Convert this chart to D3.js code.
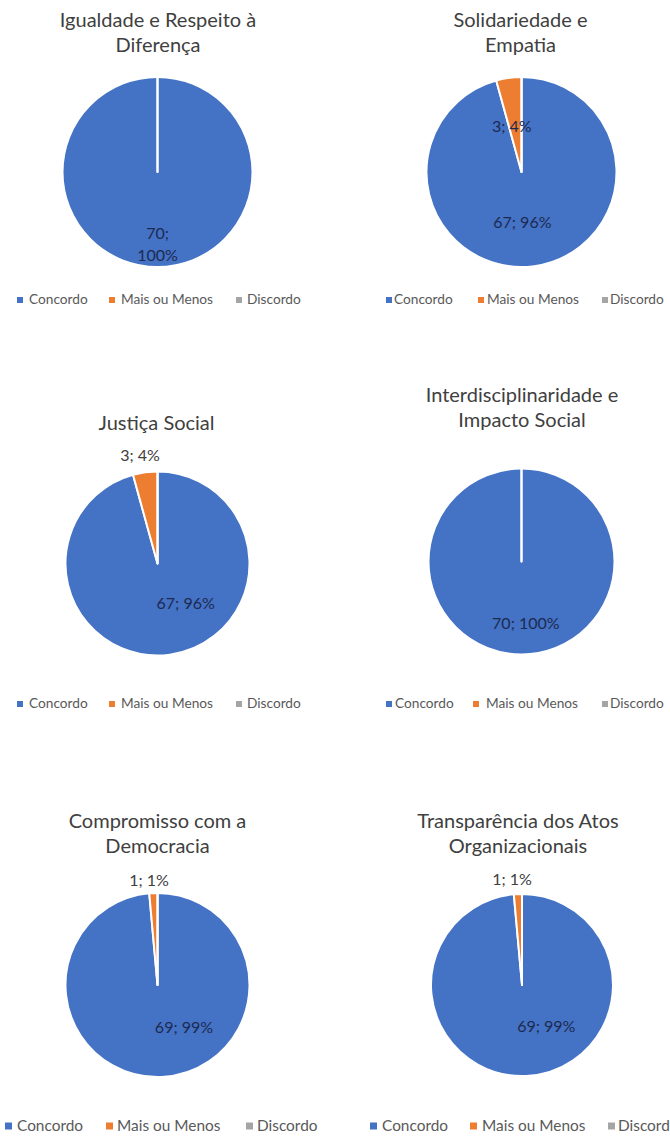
<!DOCTYPE html>
<html>
<head>
<meta charset="utf-8">
<script src="https://cdn.jsdelivr.net/npm/d3@7"></script>
<style>
  html, body { margin: 0; padding: 0; background: #ffffff; }
  svg { display: block; }
</style>
</head>
<body>
<script>
// ---------- DATA ----------
const categories = ["Concordo", "Mais ou Menos", "Discordo"];
const titles = [
  ["Igualdade e Respeito à", "Diferença"],
  ["Solidariedade e", "Empatia"],
  ["Justiça Social"],
  ["Interdisciplinaridade e", "Impacto Social"],
  ["Compromisso com a", "Democracia"],
  ["Transparência dos Atos", "Organizacionais"]
];
const concordo    = [70, 67, 67, 70, 69, 69];
const maisOuMenos = [0, 3, 3, 0, 1, 1];
const discordo    = [0, 0, 0, 0, 0, 0];

// ---------- LAYOUT / STYLE ----------
const W = 670, H = 1138;
const colors = ["#4472C4", "#ED7D31", "#A5A5A5"];
const FONT = "Lato, 'Open Sans', sans-serif";

const layout = [
  { cx: 157.5, cy: 172, r: 95, tx: 158, ty: [27, 52], ly: 299, lfs: 13.7, lsq: 6,
    sqx: [17, 109, 236], txx: [29, 121, 247],
    labels: [{ a: 180, f: 0.76, wrap: true }, null] },
  { cx: 521.5, cy: 172, r: 95, tx: 520.5, ty: [27, 52], ly: 299, lfs: 13.7, lsq: 6,
    sqx: [386, 478, 602], txx: [394, 487, 610],
    labels: [{ a: 179, f: 0.53 }, { a: 348, f: 0.49, inside: true }] },
  { cx: 157.5, cy: 563.5, r: 92, tx: 156.5, ty: [430], ly: 703, lfs: 13.7, lsq: 6,
    sqx: [17, 109, 236], txx: [29, 121, 247],
    labels: [{ a: 144.7, f: 0.53 }, { a: 350.8, f: 1.19 }] },
  { cx: 521.5, cy: 561.5, r: 93, tx: 522, ty: [401.5, 426.5], ly: 703, lfs: 13.7, lsq: 6,
    sqx: [386, 473, 602], txx: [395, 486, 610],
    labels: [{ a: 176, f: 0.67 }, null] },
  { cx: 157.5, cy: 985, r: 92, tx: 157.5, ty: [828, 853], ly: 1125, lfs: 15.4, lsq: 7,
    sqx: [5, 106, 246], txx: [17, 117, 257],
    labels: [{ a: 147.8, f: 0.54 }, { a: 355.4, f: 1.145 }] },
  { cx: 522, cy: 985, r: 91, tx: 518, ty: [828, 853], ly: 1125, lfs: 15.4, lsq: 7,
    sqx: [370, 470, 608], txx: [382, 482, 618],
    labels: [{ a: 149.7, f: 0.53 }, { a: 354.6, f: 1.16 }] }
];

// ---------- DRAW ----------
const svg = d3.select("body").append("svg")
  .attr("width", W).attr("height", H)
  .attr("viewBox", `0 0 ${W} ${H}`);
svg.append("rect").attr("width", W).attr("height", H).attr("fill", "#ffffff");

const pie = d3.pie().sort(null).value(d => d.value)
  .startAngle(0).endAngle(2 * Math.PI);
const color = d3.scaleOrdinal().domain(categories).range(colors);

layout.forEach((L, i) => {
  const values = [concordo[i], maisOuMenos[i], discordo[i]];
  const total = d3.sum(values);
  const data = categories.map((c, k) => ({ cat: c, value: values[k] }));
  const arcs = pie(data);
  const arc = d3.arc().innerRadius(0).outerRadius(L.r);

  const g = svg.append("g").attr("class", "chart");

  // title
  const title = g.append("text")
    .attr("text-anchor", "middle")
    .attr("font-family", FONT)
    .attr("font-size", 20)
    .attr("fill", "#404040");
  titles[i].forEach((line, k) => {
    title.append("tspan").attr("x", L.tx).attr("y", L.ty[k]).text(line);
  });

  // slices (zero-value slices draw the white radial separator)
  const pg = g.append("g").attr("transform", `translate(${L.cx},${L.cy})`);
  pg.selectAll("path.slice")
    .data(arcs)
    .join("path")
    .attr("class", "slice")
    .attr("d", arc)
    .attr("fill", d => color(d.data.cat))
    .attr("stroke", "#ffffff")
    .attr("stroke-width", 2)
    .attr("stroke-linejoin", "round");

  // data labels
  arcs.forEach((d, k) => {
    const spec = L.labels[k];
    if (!spec || d.data.value === 0) return;
    const ang = spec.a * Math.PI / 180;
    const rr = L.r * spec.f;
    const pos = d3.arc().innerRadius(rr).outerRadius(rr)
      .startAngle(ang).endAngle(ang).centroid();
    const pct = Math.round(d.data.value / total * 100) + "%";
    const outside = spec.f > 1;
    const t = pg.append("text")
      .attr("text-anchor", "middle")
      .attr("font-family", FONT)
      .attr("font-size", 16)
      .attr("fill", outside ? "#404040" : "#1c2a52");
    if (spec.wrap) {
      t.append("tspan").attr("x", pos[0]).attr("y", pos[1] - 11 + 5.5).text(d.data.value + ";");
      t.append("tspan").attr("x", pos[0]).attr("y", pos[1] + 11 + 5.5).text(pct);
    } else {
      t.attr("x", pos[0]).attr("y", pos[1] + 5.5).text(d.data.value + "; " + pct);
    }
  });

  // legend
  const lg = g.append("g").attr("class", "legend");
  categories.forEach((c, k) => {
    lg.append("rect")
      .attr("x", L.sqx[k])
      .attr("y", L.ly - L.lsq / 2 + 1)
      .attr("width", L.lsq).attr("height", L.lsq)
      .attr("fill", color(c));
    lg.append("text")
      .attr("x", L.txx[k])
      .attr("y", L.ly + L.lfs * 0.36)
      .attr("font-family", FONT)
      .attr("font-size", L.lfs)
      .attr("fill", "#595959")
      .text(c);
  });
});
</script>
</body>
</html>
